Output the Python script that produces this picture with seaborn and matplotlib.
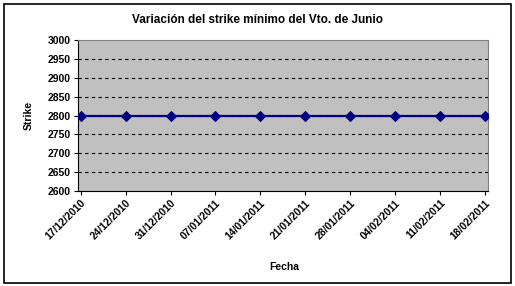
import matplotlib
matplotlib.use("Agg")
import matplotlib.pyplot as plt
import seaborn as sns
import pandas as pd
from matplotlib.patches import Rectangle

fechas = ["17/12/2010", "24/12/2010", "31/12/2010", "07/01/2011", "14/01/2011",
          "21/01/2011", "28/01/2011", "04/02/2011", "11/02/2011", "18/02/2011"]
strike = [2800, 2800, 2800, 2800, 2800, 2800, 2800, 2800, 2800, 2800]
yticks = [2600, 2650, 2700, 2750, 2800, 2850, 2900, 2950, 3000]

sns.set_theme(style="white")
plt.rcParams['font.family'] = ['Liberation Sans', 'DejaVu Sans']
plt.rcParams['text.color'] = 'black'
plt.rcParams['axes.labelcolor'] = 'black'
plt.rcParams['xtick.color'] = 'black'
plt.rcParams['ytick.color'] = 'black'

W, H = 515, 286
fig = plt.figure(figsize=(W/100, H/100), dpi=100)
ax = fig.add_axes([78/W, 1-191/H, (488-78)/W, (191-40)/H])
ax.set_facecolor("#C0C0C0")

df = pd.DataFrame({"idx": range(len(fechas)), "Strike": strike})
sns.lineplot(data=df, x="idx", y="Strike", ax=ax, color="#000080", linewidth=1.6,
             marker="D", markersize=5, markeredgecolor="#000080", zorder=3)

ax.set_ylim(2600, 3000)
ax.set_yticks(yticks)
ax.set_xlim(-0.06, len(fechas)-1+0.07)
ax.set_xticks(range(len(fechas)))
ax.set_xticklabels(fechas, rotation=45, ha="right", rotation_mode="anchor",
                   fontsize=7.5, fontweight="bold")
for lbl in ax.get_yticklabels():
    lbl.set_fontsize(7.5)
    lbl.set_fontweight("bold")
for y in yticks[1:-1]:
    ax.axhline(y, color="black", linestyle=(0, (3, 3)), linewidth=0.8, zorder=1)

for s in ["top", "right"]:
    ax.spines[s].set_color("#808080")
    ax.spines[s].set_linewidth(0.8)
for s in ["left", "bottom"]:
    ax.spines[s].set_color("black")
    ax.spines[s].set_linewidth(0.8)
ax.tick_params(axis="both", direction="out", length=3, width=0.8, color="black",
               left=True, bottom=True, pad=2)

ax.set_xlabel("")
ax.set_ylabel("Strike", fontsize=7.5, fontweight="bold", labelpad=10)
fig.text(284/W, 1-267/H, "Fecha", ha="center", va="center",
         fontsize=7.5, fontweight="bold")
fig.text(0.5, 1-20/H, "Variación del strike mínimo del Vto. de Junio",
         ha="center", va="center", fontsize=8.5, fontweight="bold")

fig.patches.append(Rectangle((4/W, 3/H), (511-4)/W, (282-3)/H, transform=fig.transFigure,
                             fill=False, edgecolor="black", linewidth=1.2))
fig.savefig("out.png", dpi=100)
